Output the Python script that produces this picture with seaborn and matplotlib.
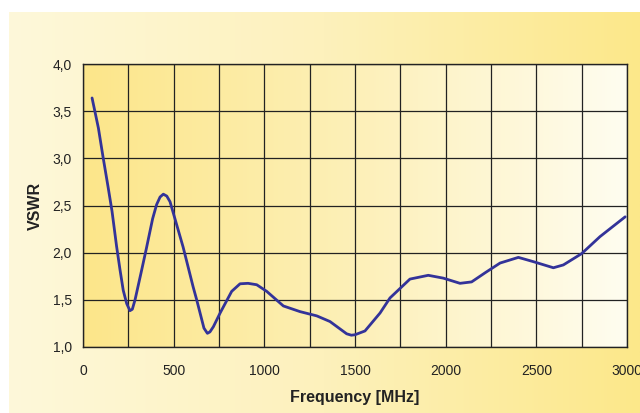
import numpy as np
import pandas as pd
import matplotlib
matplotlib.use("Agg")
import matplotlib.pyplot as plt
from matplotlib.colors import LinearSegmentedColormap
from matplotlib.ticker import MultipleLocator, FuncFormatter
import seaborn as sns

freq_mhz = [50, 85, 110, 138, 160, 185, 204, 222, 241, 259, 272, 287, 324, 349, 384,
            406, 425, 443, 462, 480, 507, 552, 607, 627, 655, 667, 686, 700, 719, 756,
            820, 866, 910, 958, 1013, 1105, 1197, 1289, 1362, 1454, 1480, 1500, 1555,
            1638, 1693, 1803, 1904, 1987, 2079, 2143, 2220, 2300, 2401, 2483, 2594,
            2649, 2750, 2851, 2990]
vswr = [3.64, 3.32, 3.02, 2.70, 2.44, 2.07, 1.82, 1.60, 1.46, 1.385, 1.40, 1.50, 1.82,
        2.04, 2.36, 2.51, 2.59, 2.62, 2.60, 2.54, 2.36, 2.06, 1.64, 1.50, 1.29, 1.20,
        1.145, 1.16, 1.215, 1.36, 1.59, 1.67, 1.675, 1.66, 1.59, 1.435, 1.375, 1.33,
        1.27, 1.14, 1.125, 1.13, 1.17, 1.36, 1.52, 1.72, 1.76, 1.73, 1.675, 1.69, 1.79,
        1.89, 1.95, 1.905, 1.84, 1.87, 1.99, 2.17, 2.38]
x_ticks = [0, 500, 1000, 1500, 2000, 2500, 3000]
y_ticks = [1.0, 1.5, 2.0, 2.5, 3.0, 3.5, 4.0]

df = pd.DataFrame({"Frequency [MHz]": freq_mhz, "VSWR": vswr})

sns.set_theme(style="white")
plt.rcParams["font.family"] = ["Liberation Sans", "DejaVu Sans"]

W, H = 640, 413
fig = plt.figure(figsize=(W / 100, H / 100), dpi=100)
fig.patch.set_facecolor("white")

# outer gradient panel
bg = fig.add_axes([9 / W, 0, (W - 9) / W, (H - 12) / H], zorder=0)
outer_cmap = LinearSegmentedColormap.from_list("outer", ["#FEF8DA", "#FDF1BC", "#FCE88A"])
bg.imshow(np.linspace(0, 1, 256)[None, :], cmap=outer_cmap, aspect="auto",
          extent=[0, 1, 0, 1], interpolation="bilinear")
bg.set_axis_off()

ax = fig.add_axes([83 / W, (H - 347) / H, (627 - 83) / W, (347 - 64) / H], zorder=1)
inner_cmap = LinearSegmentedColormap.from_list("inner", ["#FCE68A", "#FDF0B8", "#FFFDF0"])
ax.imshow(np.linspace(0, 1, 256)[None, :], cmap=inner_cmap, aspect="auto",
          extent=[0, 1, 0, 1], transform=ax.transAxes, interpolation="bilinear", zorder=0)

sns.lineplot(data=df, x="Frequency [MHz]", y="VSWR", ax=ax, color="#333399",
             linewidth=2.0, zorder=3)
for ln in ax.lines:
    ln.set_solid_joinstyle("round")
    ln.set_solid_capstyle("round")

ax.set_xlim(0, 3000)
ax.set_ylim(1.0, 4.0)
ax.set_xticks(x_ticks)
ax.set_yticks(y_ticks)
ax.xaxis.set_minor_locator(MultipleLocator(250))
ax.yaxis.set_major_formatter(FuncFormatter(lambda v, p: f"{v:.1f}".replace(".", ",")))
ax.grid(True, which="both", color="#222222", linewidth=0.9, zorder=1)
ax.set_axisbelow(False)
for s in ax.spines.values():
    s.set_color("#222222")
    s.set_linewidth(1.0)
ax.tick_params(axis="both", which="major", direction="out", length=4, width=0.9,
               color="#222222", labelsize=10, labelcolor="#222222", pad=4)
ax.tick_params(axis="x", which="major", pad=8)
ax.tick_params(which="minor", length=0)
ax.set_xlabel("Frequency [MHz]", fontsize=11.5, fontweight="bold", color="#222222", labelpad=9)
ax.set_ylabel("VSWR", fontsize=11.5, fontweight="bold", color="#222222", labelpad=7)

fig.savefig("out.png", dpi=100, facecolor=fig.get_facecolor())
